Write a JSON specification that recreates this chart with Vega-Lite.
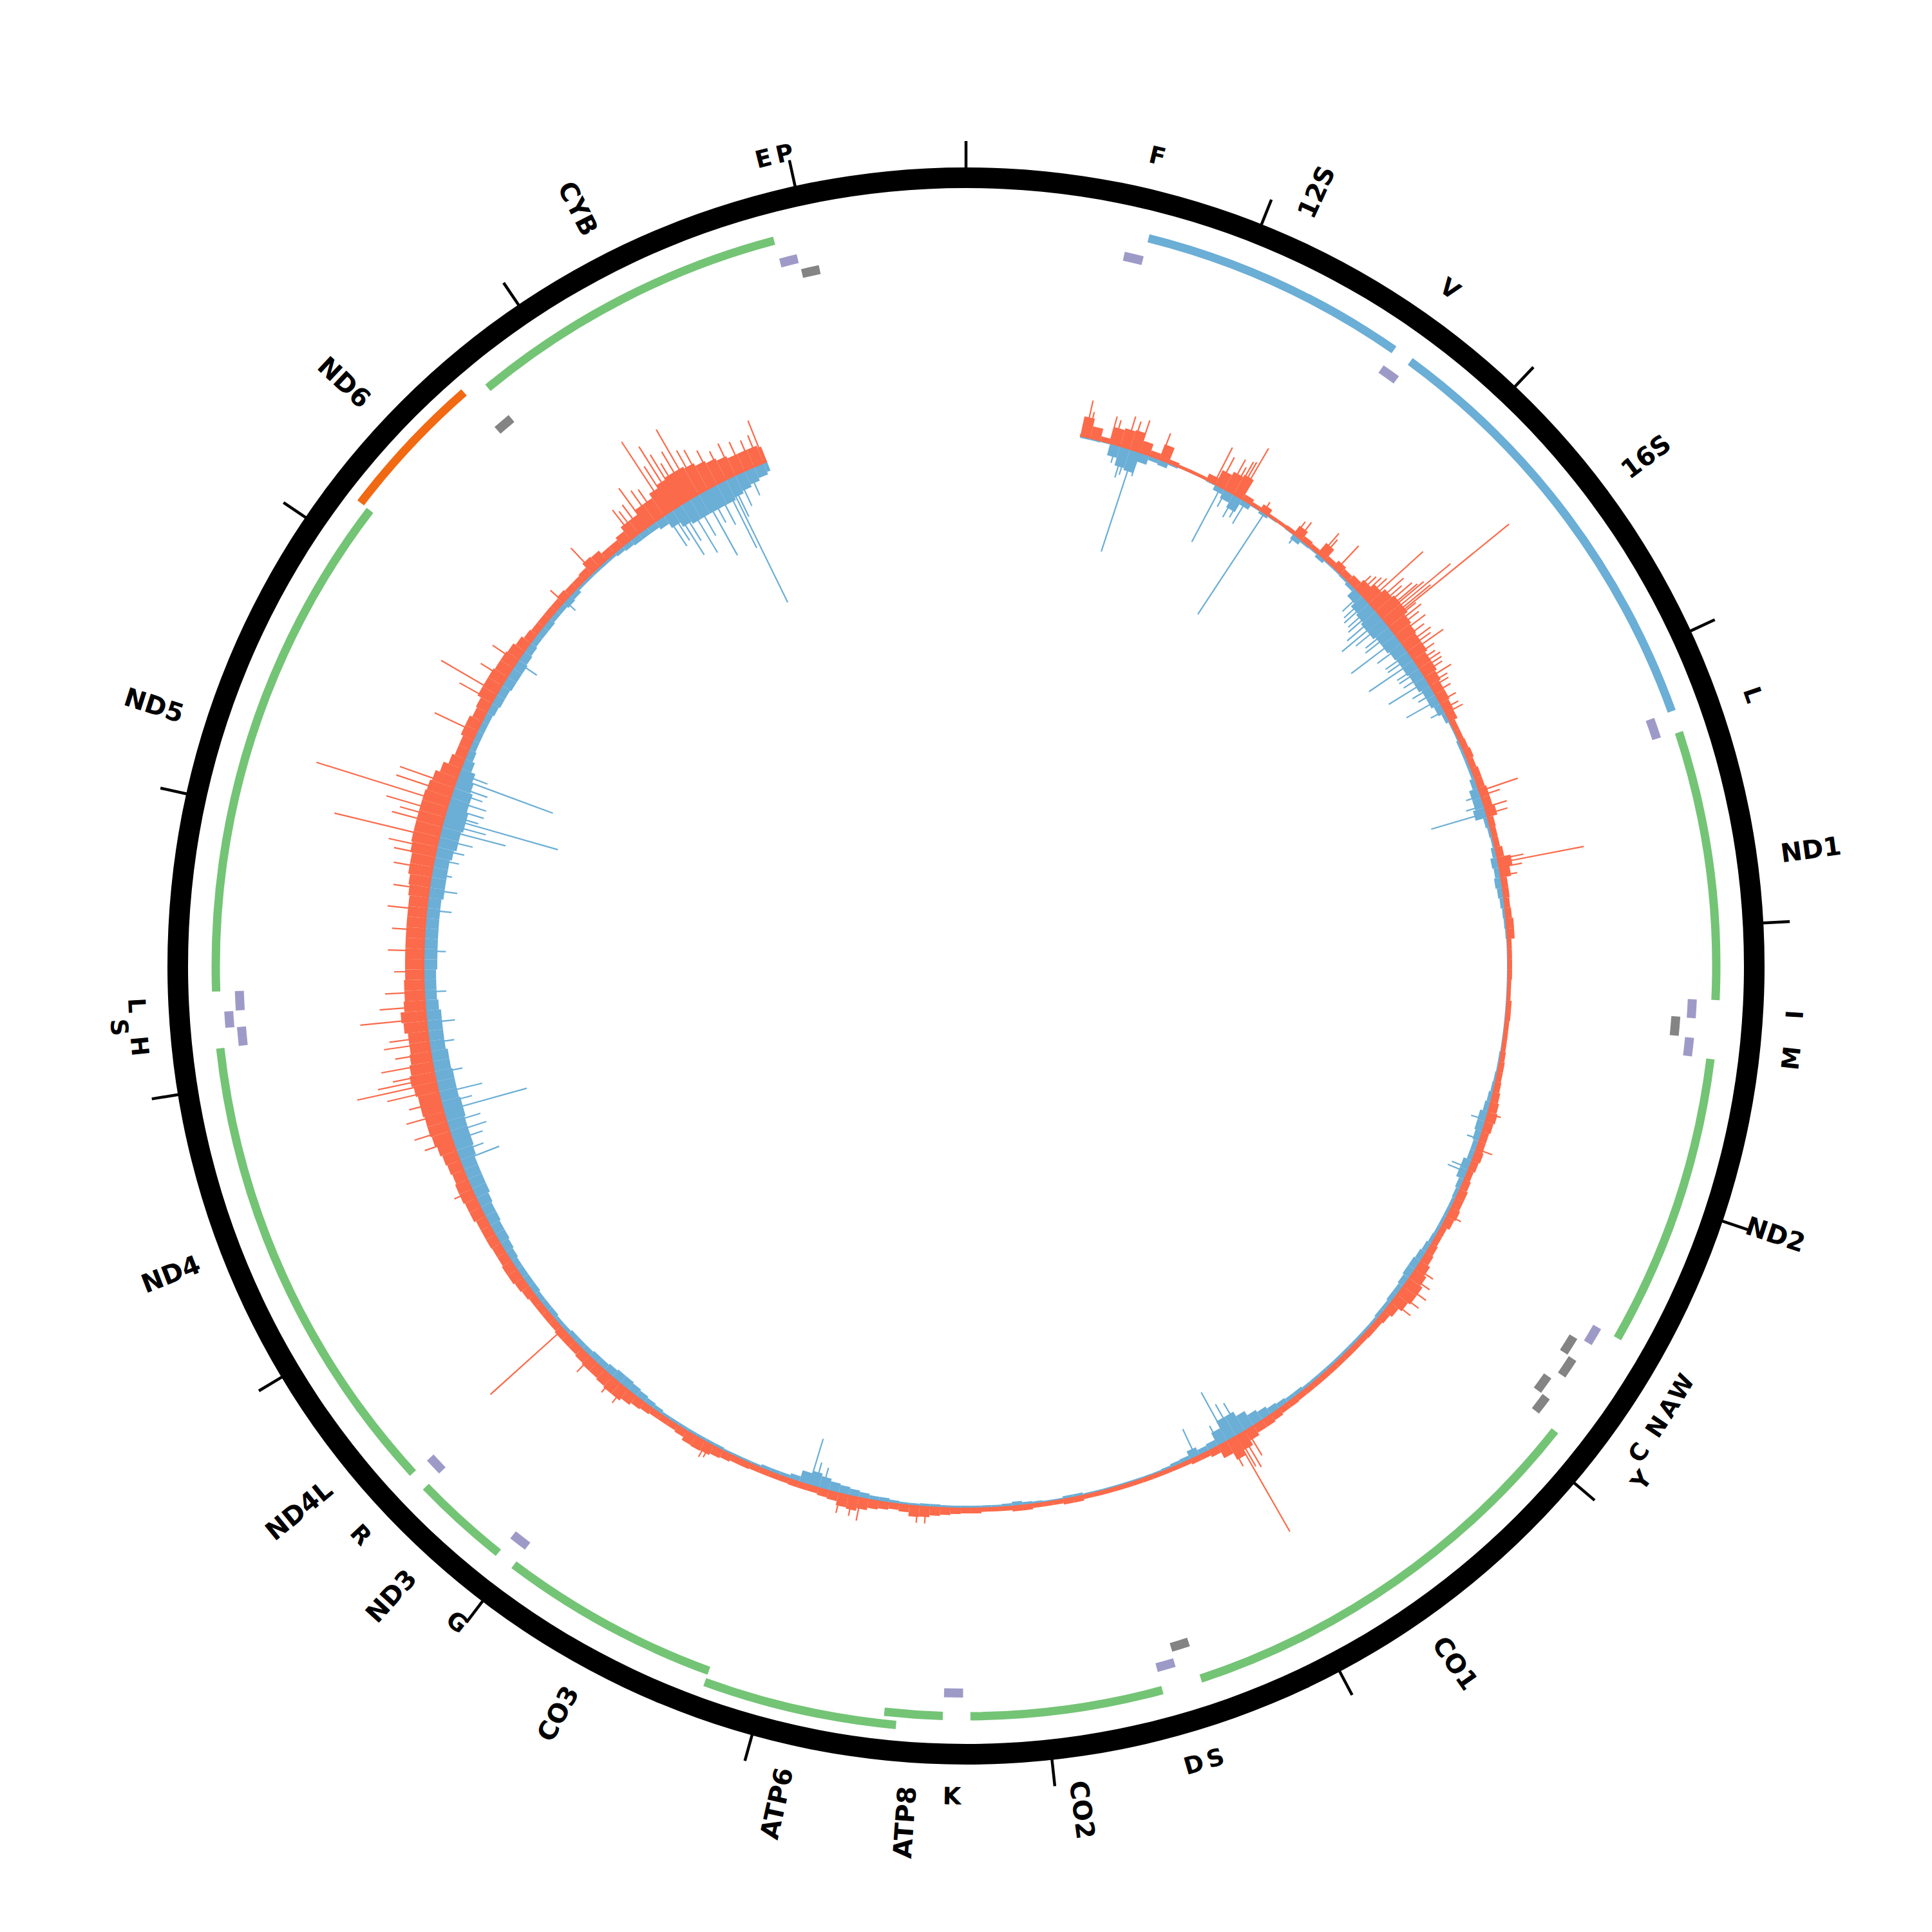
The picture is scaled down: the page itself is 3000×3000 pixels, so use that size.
{
"$schema":"https://vega.github.io/schema/vega-lite/v6.json",
"width":3000,"height":3000,"autosize":{"type":"none"},"padding":0,"background":"white",
"config":{"view":{"stroke":null}},
"datasets":{
"genes":[
{"s":577,"e":647,"g":"F","t":"H","k":0,"lk":0},
{"s":648,"e":1601,"g":"12S","t":"R","k":0,"lk":0},
{"s":1602,"e":1670,"g":"V","t":"H","k":0,"lk":0},
{"s":1671,"e":3229,"g":"16S","t":"R","k":0,"lk":0},
{"s":3230,"e":3304,"g":"L","t":"H","k":0,"lk":0},
{"s":3307,"e":4262,"g":"ND1","t":"P","k":0,"lk":0},
{"s":4263,"e":4331,"g":"I","t":"H","k":0,"lk":0},
{"s":4329,"e":4400,"g":"","t":"L","k":0,"lk":0},
{"s":4402,"e":4469,"g":"M","t":"H","k":0,"lk":0},
{"s":4470,"e":5511,"g":"ND2","t":"P","k":0,"lk":0},
{"s":5512,"e":5579,"g":"W","t":"H","k":0,"lk":0},
{"s":5587,"e":5655,"g":"A","t":"L","k":0,"lk":0},
{"s":5657,"e":5729,"g":"N","t":"L","k":1,"lk":0},
{"s":5761,"e":5826,"g":"C","t":"L","k":0,"lk":0},
{"s":5826,"e":5891,"g":"Y","t":"L","k":1,"lk":1},
{"s":5904,"e":7445,"g":"CO1","t":"P","k":0,"lk":0},
{"s":7446,"e":7514,"g":"S","t":"L","k":0,"lk":0},
{"s":7518,"e":7585,"g":"D","t":"H","k":0,"lk":0},
{"s":7586,"e":8269,"g":"CO2","t":"P","k":0,"lk":0},
{"s":8295,"e":8364,"g":"K","t":"H","k":0,"lk":0},
{"s":8366,"e":8572,"g":"ATP8","t":"P","k":0,"lk":0},
{"s":8527,"e":9207,"g":"ATP6","t":"P","k":1,"lk":0},
{"s":9207,"e":9990,"g":"CO3","t":"P","k":0,"lk":0},
{"s":9991,"e":10058,"g":"G","t":"H","k":0,"lk":0},
{"s":10059,"e":10404,"g":"ND3","t":"P","k":0,"lk":0},
{"s":10405,"e":10469,"g":"R","t":"H","k":0,"lk":0},
{"s":10470,"e":10766,"g":"ND4L","t":"P","k":0,"lk":0},
{"s":10760,"e":12137,"g":"ND4","t":"P","k":0,"lk":0},
{"s":12138,"e":12206,"g":"H","t":"H","k":0,"lk":0},
{"s":12207,"e":12265,"g":"S","t":"H","k":1,"lk":1},
{"s":12266,"e":12336,"g":"L","t":"H","k":0,"lk":0},
{"s":12337,"e":14148,"g":"ND5","t":"P","k":0,"lk":0},
{"s":14149,"e":14673,"g":"ND6","t":"N","k":1,"lk":0},
{"s":14674,"e":14742,"g":"","t":"L","k":0,"lk":0},
{"s":14747,"e":15887,"g":"CYB","t":"P","k":0,"lk":0},
{"s":15888,"e":15953,"g":"E","t":"H","k":0,"lk":0},
{"s":15956,"e":16023,"g":"P","t":"L","k":0,"lk":0}
],
"cov":[
{"p":560,"r":30,"b":4},{"p":610,"r":18,"b":4},{"p":660,"r":6,"b":3},{"p":710,"r":25,"b":20},{"p":760,"r":28,"b":32},{"p":810,"r":30,"b":35},{"p":860,"r":18,"b":16},{"p":910,"r":8,"b":8},{"p":960,"r":24,"b":10},{"p":1010,"r":5,"b":4},
{"p":1060,"r":3,"b":2},{"p":1110,"r":3,"b":2},{"p":1160,"r":3,"b":2},{"p":1210,"r":10,"b":3},{"p":1260,"r":24,"b":10},{"p":1310,"r":30,"b":16},{"p":1360,"r":34,"b":24},{"p":1410,"r":8,"b":10},{"p":1460,"r":4,"b":3},{"p":1510,"r":10,"b":6},
{"p":1560,"r":3,"b":3},{"p":1610,"r":3,"b":2},{"p":1660,"r":4,"b":3},{"p":1710,"r":15,"b":10},{"p":1760,"r":7,"b":5},{"p":1810,"r":5,"b":4},{"p":1860,"r":20,"b":8},{"p":1910,"r":7,"b":4},{"p":1960,"r":12,"b":4},{"p":2010,"r":9,"b":5},
{"p":2060,"r":12,"b":8},{"p":2110,"r":18,"b":18},{"p":2160,"r":25,"b":25},{"p":2210,"r":32,"b":28},{"p":2260,"r":36,"b":32},{"p":2310,"r":36,"b":32},{"p":2360,"r":30,"b":28},{"p":2410,"r":27,"b":28},{"p":2460,"r":25,"b":25},{"p":2510,"r":25,"b":23},
{"p":2560,"r":21,"b":23},{"p":2610,"r":21,"b":21},{"p":2660,"r":18,"b":21},{"p":2710,"r":15,"b":17},{"p":2760,"r":15,"b":17},{"p":2810,"r":13,"b":13},{"p":2860,"r":12,"b":8},{"p":2910,"r":7,"b":4},{"p":2960,"r":7,"b":4},{"p":3010,"r":8,"b":6},
{"p":3060,"r":10,"b":6},{"p":3110,"r":8,"b":6},{"p":3160,"r":10,"b":6},{"p":3210,"r":10,"b":10},{"p":3260,"r":12,"b":16},{"p":3310,"r":12,"b":16},{"p":3360,"r":15,"b":20},{"p":3410,"r":8,"b":8},{"p":3460,"r":7,"b":6},{"p":3510,"r":7,"b":5},
{"p":3560,"r":10,"b":8},{"p":3610,"r":20,"b":12},{"p":3660,"r":15,"b":10},{"p":3710,"r":8,"b":12},{"p":3760,"r":8,"b":10},{"p":3810,"r":7,"b":8},{"p":3860,"r":8,"b":6},{"p":3910,"r":10,"b":5},{"p":3960,"r":10,"b":4},{"p":4010,"r":5,"b":3},
{"p":4060,"r":5,"b":3},{"p":4110,"r":5,"b":3},{"p":4160,"r":5,"b":3},{"p":4210,"r":4,"b":3},{"p":4260,"r":4,"b":3},{"p":4310,"r":6,"b":3},{"p":4360,"r":6,"b":3},{"p":4410,"r":5,"b":3},{"p":4460,"r":5,"b":3},{"p":4510,"r":5,"b":3},
{"p":4560,"r":6,"b":4},{"p":4610,"r":7,"b":4},{"p":4660,"r":7,"b":5},{"p":4710,"r":8,"b":6},{"p":4760,"r":10,"b":8},{"p":4810,"r":12,"b":10},{"p":4860,"r":14,"b":14},{"p":4910,"r":12,"b":14},{"p":4960,"r":10,"b":12},{"p":5010,"r":10,"b":10},
{"p":5060,"r":12,"b":10},{"p":5110,"r":10,"b":15},{"p":5160,"r":8,"b":15},{"p":5210,"r":10,"b":10},{"p":5260,"r":12,"b":8},{"p":5310,"r":12,"b":7},{"p":5360,"r":14,"b":7},{"p":5410,"r":12,"b":7},{"p":5460,"r":8,"b":7},{"p":5510,"r":8,"b":8},
{"p":5560,"r":10,"b":10},{"p":5610,"r":12,"b":12},{"p":5660,"r":16,"b":14},{"p":5710,"r":20,"b":14},{"p":5760,"r":24,"b":12},{"p":5810,"r":24,"b":10},{"p":5860,"r":20,"b":10},{"p":5910,"r":14,"b":8},{"p":5960,"r":10,"b":8},{"p":6010,"r":8,"b":6},
{"p":6060,"r":8,"b":6},{"p":6110,"r":7,"b":6},{"p":6160,"r":7,"b":6},{"p":6210,"r":7,"b":6},{"p":6260,"r":7,"b":6},{"p":6310,"r":7,"b":6},{"p":6360,"r":7,"b":6},{"p":6410,"r":7,"b":6},{"p":6460,"r":7,"b":6},{"p":6510,"r":7,"b":8},
{"p":6560,"r":8,"b":8},{"p":6610,"r":8,"b":10},{"p":6660,"r":10,"b":12},{"p":6710,"r":12,"b":16},{"p":6760,"r":12,"b":20},{"p":6810,"r":16,"b":28},{"p":6860,"r":24,"b":36},{"p":6910,"r":32,"b":36},{"p":6960,"r":20,"b":24},{"p":7010,"r":10,"b":12},
{"p":7060,"r":7,"b":10},{"p":7110,"r":7,"b":15},{"p":7160,"r":5,"b":8},{"p":7210,"r":5,"b":7},{"p":7260,"r":5,"b":5},{"p":7310,"r":5,"b":4},{"p":7360,"r":5,"b":4},{"p":7410,"r":5,"b":4},{"p":7460,"r":5,"b":4},{"p":7510,"r":5,"b":4},
{"p":7560,"r":5,"b":4},{"p":7610,"r":5,"b":4},{"p":7660,"r":5,"b":4},{"p":7710,"r":7,"b":6},{"p":7760,"r":7,"b":6},{"p":7810,"r":5,"b":4},{"p":7860,"r":5,"b":4},{"p":7910,"r":5,"b":5},{"p":7960,"r":7,"b":6},{"p":8010,"r":7,"b":8},
{"p":8060,"r":5,"b":6},{"p":8110,"r":5,"b":5},{"p":8160,"r":5,"b":5},{"p":8210,"r":7,"b":5},{"p":8260,"r":7,"b":5},{"p":8310,"r":8,"b":5},{"p":8360,"r":10,"b":5},{"p":8410,"r":12,"b":6},{"p":8460,"r":15,"b":6},{"p":8510,"r":16,"b":5},
{"p":8560,"r":10,"b":5},{"p":8610,"r":8,"b":6},{"p":8660,"r":10,"b":8},{"p":8710,"r":12,"b":8},{"p":8760,"r":16,"b":10},{"p":8810,"r":20,"b":12},{"p":8860,"r":18,"b":14},{"p":8910,"r":12,"b":16},{"p":8960,"r":10,"b":20},{"p":9010,"r":8,"b":24},
{"p":9060,"r":8,"b":20},{"p":9110,"r":8,"b":10},{"p":9160,"r":7,"b":7},{"p":9210,"r":7,"b":7},{"p":9260,"r":7,"b":7},{"p":9310,"r":7,"b":5},{"p":9360,"r":8,"b":5},{"p":9410,"r":8,"b":5},{"p":9460,"r":10,"b":5},{"p":9510,"r":12,"b":6},
{"p":9560,"r":15,"b":6},{"p":9610,"r":16,"b":6},{"p":9660,"r":15,"b":6},{"p":9710,"r":10,"b":6},{"p":9760,"r":8,"b":6},{"p":9810,"r":8,"b":6},{"p":9860,"r":8,"b":8},{"p":9910,"r":10,"b":10},{"p":9960,"r":12,"b":12},{"p":10010,"r":16,"b":14},
{"p":10060,"r":20,"b":16},{"p":10110,"r":20,"b":16},{"p":10160,"r":18,"b":14},{"p":10210,"r":16,"b":12},{"p":10260,"r":16,"b":12},{"p":10310,"r":14,"b":10},{"p":10360,"r":12,"b":10},{"p":10410,"r":12,"b":10},{"p":10460,"r":12,"b":8},{"p":10510,"r":10,"b":8},
{"p":10560,"r":10,"b":10},{"p":10610,"r":10,"b":10},{"p":10660,"r":10,"b":10},{"p":10710,"r":12,"b":12},{"p":10760,"r":14,"b":12},{"p":10810,"r":16,"b":12},{"p":10860,"r":16,"b":12},{"p":10910,"r":14,"b":14},{"p":10960,"r":14,"b":16},{"p":11010,"r":15,"b":18},
{"p":11060,"r":15,"b":18},{"p":11110,"r":15,"b":20},{"p":11160,"r":18,"b":20},{"p":11210,"r":18,"b":22},{"p":11260,"r":20,"b":25},{"p":11310,"r":20,"b":25},{"p":11360,"r":18,"b":25},{"p":11410,"r":20,"b":25},{"p":11460,"r":22,"b":28},{"p":11510,"r":25,"b":30},
{"p":11560,"r":28,"b":30},{"p":11610,"r":30,"b":30},{"p":11660,"r":30,"b":32},{"p":11710,"r":32,"b":32},{"p":11760,"r":32,"b":30},{"p":11810,"r":35,"b":30},{"p":11860,"r":38,"b":30},{"p":11910,"r":35,"b":28},{"p":11960,"r":32,"b":28},{"p":12010,"r":30,"b":25},
{"p":12060,"r":30,"b":25},{"p":12110,"r":35,"b":25},{"p":12160,"r":38,"b":25},{"p":12210,"r":32,"b":22},{"p":12260,"r":30,"b":20},{"p":12310,"r":30,"b":20},{"p":12360,"r":28,"b":20},{"p":12410,"r":28,"b":22},{"p":12460,"r":28,"b":22},{"p":12510,"r":28,"b":22},
{"p":12560,"r":28,"b":22},{"p":12610,"r":28,"b":22},{"p":12660,"r":28,"b":22},{"p":12710,"r":28,"b":22},{"p":12760,"r":30,"b":25},{"p":12810,"r":32,"b":25},{"p":12860,"r":35,"b":25},{"p":12910,"r":35,"b":25},{"p":12960,"r":38,"b":28},{"p":13010,"r":40,"b":32},
{"p":13060,"r":40,"b":32},{"p":13110,"r":40,"b":35},{"p":13160,"r":40,"b":35},{"p":13210,"r":40,"b":32},{"p":13260,"r":38,"b":32},{"p":13310,"r":35,"b":28},{"p":13360,"r":28,"b":25},{"p":13410,"r":20,"b":18},{"p":13460,"r":16,"b":14},{"p":13510,"r":16,"b":12},
{"p":13560,"r":20,"b":12},{"p":13610,"r":20,"b":12},{"p":13660,"r":16,"b":12},{"p":13710,"r":18,"b":14},{"p":13760,"r":24,"b":16},{"p":13810,"r":24,"b":16},{"p":13860,"r":24,"b":18},{"p":13910,"r":22,"b":18},{"p":13960,"r":22,"b":18},{"p":14010,"r":20,"b":16},
{"p":14060,"r":16,"b":14},{"p":14110,"r":12,"b":12},{"p":14160,"r":10,"b":12},{"p":14210,"r":10,"b":12},{"p":14260,"r":10,"b":10},{"p":14310,"r":10,"b":10},{"p":14360,"r":12,"b":12},{"p":14410,"r":10,"b":10},{"p":14460,"r":10,"b":6},{"p":14510,"r":12,"b":6},
{"p":14560,"r":20,"b":6},{"p":14610,"r":18,"b":6},{"p":14660,"r":12,"b":6},{"p":14710,"r":12,"b":8},{"p":14760,"r":16,"b":10},{"p":14810,"r":24,"b":12},{"p":14860,"r":24,"b":12},{"p":14910,"r":32,"b":12},{"p":14960,"r":32,"b":16},{"p":15010,"r":40,"b":24},
{"p":15060,"r":45,"b":32},{"p":15110,"r":48,"b":36},{"p":15160,"r":48,"b":36},{"p":15210,"r":45,"b":36},{"p":15260,"r":40,"b":36},{"p":15310,"r":36,"b":36},{"p":15360,"r":32,"b":32},{"p":15410,"r":28,"b":28},{"p":15460,"r":28,"b":24},{"p":15510,"r":28,"b":20},
{"p":15560,"r":24,"b":16},{"p":15578,"r":0,"b":0}
],
"rs":[
{"p":583,"v":57},{"p":600,"v":40},{"p":708,"v":42},{"p":730,"v":38},{"p":790,"v":50},{"p":820,"v":45},{"p":857,"v":51},{"p":967,"v":43},{"p":1252,"v":62},{"p":1280,"v":50},{"p":1330,"v":55},{"p":1350,"v":45},{"p":1367,"v":58},{"p":1380,"v":60},{"p":1395,"v":88},{"p":1530,"v":18},{"p":1720,"v":25},{"p":1745,"v":30},{"p":1876,"v":44},{"p":1890,"v":35},{"p":1982,"v":50},
{"p":2120,"v":30},{"p":2140,"v":35},{"p":2160,"v":40},{"p":2180,"v":45},{"p":2200,"v":115},{"p":2230,"v":65},{"p":2250,"v":55},{"p":2270,"v":70},{"p":2290,"v":75},{"p":2300,"v":85},{"p":2315,"v":135},{"p":2330,"v":90},{"p":2341,"v":244},{"p":2350,"v":55},{"p":2370,"v":60},{"p":2390,"v":50},{"p":2420,"v":55},{"p":2450,"v":45},{"p":2480,"v":50},{"p":2500,"v":45},{"p":2522,"v":64},{"p":2550,"v":40},{"p":2580,"v":35},{"p":2600,"v":40},{"p":2620,"v":38},{"p":2640,"v":35},{"p":2675,"v":44},{"p":2700,"v":32},{"p":2720,"v":30},{"p":2750,"v":28},{"p":2800,"v":28},{"p":2840,"v":25},{"p":2863,"v":29},
{"p":3277,"v":62},{"p":3300,"v":30},{"p":3360,"v":35},{"p":3393,"v":33},{"p":3620,"v":40},{"p":3638,"v":134},{"p":3660,"v":35},{"p":3700,"v":25},{"p":4870,"v":20},{"p":5050,"v":25},{"p":5400,"v":22},{"p":5700,"v":30},{"p":5750,"v":35},{"p":5800,"v":40},{"p":5850,"v":38},{"p":5900,"v":35},{"p":6850,"v":45},{"p":6880,"v":60},{"p":6900,"v":55},{"p":6913,"v":169},{"p":6950,"v":45},
{"p":8480,"v":25},{"p":8520,"v":25},{"p":8800,"v":35},{"p":8840,"v":30},{"p":8900,"v":30},{"p":9580,"v":22},{"p":9600,"v":25},{"p":10080,"v":30},{"p":10150,"v":28},{"p":10300,"v":30},{"p":10493,"v":151},{"p":11300,"v":30},
{"p":11560,"v":45},{"p":11620,"v":55},{"p":11700,"v":60},{"p":11760,"v":50},{"p":11820,"v":80},{"p":11855,"v":125},{"p":11880,"v":90},{"p":11900,"v":65},{"p":11950,"v":80},{"p":12000,"v":55},{"p":12050,"v":70},{"p":12080,"v":60},{"p":12170,"v":102},{"p":12230,"v":70},{"p":12300,"v":60},{"p":12400,"v":45},{"p":12500,"v":55},{"p":12600,"v":50},{"p":12700,"v":60},{"p":12800,"v":55},{"p":12900,"v":60},{"p":12965,"v":64},
{"p":13000,"v":75},{"p":13053,"v":166},{"p":13120,"v":80},{"p":13150,"v":70},{"p":13180,"v":95},{"p":13228,"v":214},{"p":13280,"v":90},{"p":13320,"v":89},{"p":13600,"v":71},{"p":13771,"v":58},{"p":13817,"v":100},{"p":13897,"v":45},{"p":13997,"v":45},{"p":14365,"v":27},{"p":14572,"v":50},{"p":14830,"v":53},{"p":14850,"v":45},{"p":14880,"v":50},{"p":14912,"v":74},{"p":14950,"v":60},{"p":14980,"v":55},
{"p":15036,"v":131},{"p":15060,"v":80},{"p":15087,"v":110},{"p":15110,"v":90},{"p":15130,"v":70},{"p":15160,"v":85},{"p":15188,"v":119},{"p":15220,"v":75},{"p":15250,"v":70},{"p":15300,"v":60},{"p":15350,"v":50},{"p":15400,"v":55},{"p":15450,"v":50},{"p":15500,"v":45},{"p":15540,"v":48},{"p":15566,"v":69}
],
"bs":[
{"p":740,"v":30},{"p":780,"v":50},{"p":797,"v":44},{"p":832,"v":166},{"p":860,"v":40},{"p":1290,"v":97},{"p":1320,"v":30},{"p":1370,"v":40},{"p":1400,"v":35},{"p":1430,"v":41},{"p":1537,"v":189},{"p":1721,"v":17},
{"p":2150,"v":40},{"p":2180,"v":45},{"p":2200,"v":50},{"p":2230,"v":50},{"p":2250,"v":55},{"p":2280,"v":65},{"p":2306,"v":82},{"p":2330,"v":60},{"p":2370,"v":50},{"p":2390,"v":55},{"p":2430,"v":92},{"p":2470,"v":50},{"p":2520,"v":45},{"p":2540,"v":45},{"p":2566,"v":86},{"p":2600,"v":40},{"p":2620,"v":40},{"p":2650,"v":38},{"p":2681,"v":71},{"p":2720,"v":35},{"p":2750,"v":30},{"p":2789,"v":58},{"p":2850,"v":25},
{"p":3300,"v":25},{"p":3350,"v":30},{"p":3388,"v":90},{"p":4900,"v":25},{"p":5000,"v":22},{"p":5150,"v":30},{"p":5172,"v":34},{"p":6880,"v":55},{"p":6920,"v":60},{"p":6955,"v":87},{"p":7000,"v":35},{"p":7130,"v":49},{"p":8990,"v":35},{"p":9030,"v":40},{"p":9058,"v":76},
{"p":11455,"v":66},{"p":11500,"v":45},{"p":11560,"v":50},{"p":11600,"v":60},{"p":11650,"v":55},{"p":11711,"v":135},{"p":11750,"v":50},{"p":11800,"v":70},{"p":11900,"v":45},{"p":12050,"v":40},{"p":12150,"v":45},{"p":12300,"v":35},{"p":12500,"v":35},{"p":12700,"v":40},{"p":12800,"v":45},{"p":12878,"v":33},{"p":12950,"v":40},{"p":13000,"v":45},
{"p":13050,"v":55},{"p":13100,"v":104},{"p":13130,"v":70},{"p":13159,"v":184},{"p":13175,"v":54},{"p":13210,"v":60},{"p":13250,"v":60},{"p":13290,"v":50},{"p":13320,"v":55},{"p":13361,"v":159},{"p":13385,"v":48},{"p":13997,"v":38},{"p":14374,"v":23},
{"p":15022,"v":60},{"p":15050,"v":55},{"p":15074,"v":86},{"p":15100,"v":65},{"p":15142,"v":94},{"p":15180,"v":70},{"p":15230,"v":113},{"p":15260,"v":60},{"p":15300,"v":70},{"p":15345,"v":117},{"p":15367,"v":214},{"p":15382,"v":68},{"p":15420,"v":55},{"p":15480,"v":45}
]
},
"layer":[
{"data":{"values":[{"s":0,"e":16569}]},
 "mark":{"type":"arc","innerRadius":1208,"outerRadius":1240,"color":"#000000"},
 "encoding":{"theta":{"field":"s","type":"quantitative","stack":null,"scale":{"type":"linear","domain":[0,16569],"range":[0,6.283185307179586],"nice":false,"zero":false}},"theta2":{"field":"e"}}},
{"data":{"values":[{"p":0},{"p":1000},{"p":2000},{"p":3000},{"p":4000},{"p":5000},{"p":6000},{"p":7000},{"p":8000},{"p":9000},{"p":10000},{"p":11000},{"p":12000},{"p":13000},{"p":14000},{"p":15000},{"p":16000}]},
 "mark":{"type":"arc","innerRadius":1238,"outerRadius":1281,"filled":false,"stroke":"#000000","strokeWidth":4.5},
 "encoding":{"theta":{"field":"p","type":"quantitative","stack":null},"theta2":{"field":"p"}}},
{"data":{"name":"genes"},"transform":[{"filter":"datum.k==0 && (datum.t=='P'||datum.t=='N'||datum.t=='R')"}],
 "mark":{"type":"arc","innerRadius":1158.5,"outerRadius":1171.5},
 "encoding":{"theta":{"field":"s","type":"quantitative","stack":null},"theta2":{"field":"e"},"color":{"field":"t","type":"nominal","legend":null,"scale":{"domain":["P","N","R","H","L"],"range":["#74c476","#f16913","#6baed6","#9e9ac8","#848484"]}}}},
{"data":{"name":"genes"},"transform":[{"filter":"datum.k==1 && (datum.t=='P'||datum.t=='N'||datum.t=='R')"}],
 "mark":{"type":"arc","innerRadius":1177,"outerRadius":1190},
 "encoding":{"theta":{"field":"s","type":"quantitative","stack":null},"theta2":{"field":"e"},"color":{"field":"t","type":"nominal","legend":null}}},
{"data":{"name":"genes"},"transform":[{"filter":"datum.k==0 && datum.t=='H'"}],
 "mark":{"type":"arc","innerRadius":1122,"outerRadius":1136},
 "encoding":{"theta":{"field":"s","type":"quantitative","stack":null},"theta2":{"field":"e"},"color":{"field":"t","type":"nominal","legend":null}}},
{"data":{"name":"genes"},"transform":[{"filter":"datum.k==1 && datum.t=='H'"}],
 "mark":{"type":"arc","innerRadius":1140,"outerRadius":1154},
 "encoding":{"theta":{"field":"s","type":"quantitative","stack":null},"theta2":{"field":"e"},"color":{"field":"t","type":"nominal","legend":null}}},
{"data":{"name":"genes"},"transform":[{"filter":"datum.k==0 && datum.t=='L'"}],
 "mark":{"type":"arc","innerRadius":1098,"outerRadius":1112},
 "encoding":{"theta":{"field":"s","type":"quantitative","stack":null},"theta2":{"field":"e"},"color":{"field":"t","type":"nominal","legend":null}}},
{"data":{"name":"genes"},"transform":[{"filter":"datum.k==1 && datum.t=='L'"}],
 "mark":{"type":"arc","innerRadius":1115,"outerRadius":1129},
 "encoding":{"theta":{"field":"s","type":"quantitative","stack":null},"theta2":{"field":"e"},"color":{"field":"t","type":"nominal","legend":null}}},
{"data":{"name":"genes"},"transform":[{"filter":"datum.t=='P'||datum.t=='N'||datum.t=='R'"},{"calculate":"(datum.s+datum.e)/2","as":"m"},{"calculate":"datum.m/16569*360","as":"d"},{"filter":"datum.d<180"},{"calculate":"datum.d-90","as":"a"}],
 "mark":{"type":"text","radius":1277,"align":"left","baseline":"middle","font":"DejaVu Sans","fontWeight":"bold","fontSize":40,"color":"#000000"},
 "encoding":{"theta":{"field":"m","type":"quantitative","stack":null},"text":{"field":"g"},"angle":{"field":"a","type":"quantitative","scale":null}}},
{"data":{"name":"genes"},"transform":[{"filter":"datum.t=='P'||datum.t=='N'||datum.t=='R'"},{"calculate":"(datum.s+datum.e)/2","as":"m"},{"calculate":"datum.m/16569*360","as":"d"},{"filter":"datum.d>=180"},{"calculate":"datum.d-270","as":"a"}],
 "mark":{"type":"text","radius":1277,"align":"right","baseline":"middle","font":"DejaVu Sans","fontWeight":"bold","fontSize":40,"color":"#000000"},
 "encoding":{"theta":{"field":"m","type":"quantitative","stack":null},"text":{"field":"g"},"angle":{"field":"a","type":"quantitative","scale":null}}},
{"data":{"name":"genes"},"transform":[{"filter":"(datum.t=='H'||datum.t=='L') && datum.g!='' && datum.lk==0"},{"calculate":"(datum.s+datum.e)/2","as":"m"},{"calculate":"datum.m/16569*360","as":"d"},{"calculate":"datum.d>90 && datum.d<270 ? datum.d-180 : datum.d","as":"a"}],
 "mark":{"type":"text","radius":1291,"align":"center","baseline":"middle","font":"DejaVu Sans","fontWeight":"bold","fontSize":37,"color":"#000000"},
 "encoding":{"theta":{"field":"m","type":"quantitative","stack":null},"text":{"field":"g"},"angle":{"field":"a","type":"quantitative","scale":null}}},
{"data":{"name":"genes"},"transform":[{"filter":"(datum.t=='H'||datum.t=='L') && datum.g!='' && datum.lk==1"},{"calculate":"(datum.s+datum.e)/2","as":"m"},{"calculate":"datum.m/16569*360","as":"d"},{"calculate":"datum.d>90 && datum.d<270 ? datum.d-180 : datum.d","as":"a"}],
 "mark":{"type":"text","radius":1320,"align":"center","baseline":"middle","font":"DejaVu Sans","fontWeight":"bold","fontSize":37,"color":"#000000"},
 "encoding":{"theta":{"field":"m","type":"quantitative","stack":null},"text":{"field":"g"},"angle":{"field":"a","type":"quantitative","scale":null}}},
{"data":{"name":"cov"},"transform":[{"window":[{"op":"lead","field":"p","as":"p2"}],"sort":[{"field":"p","order":"ascending"}]},{"filter":"datum.p2 != null"}],
 "mark":{"type":"arc","innerRadius":843,"color":"#6baed6"},
 "encoding":{"theta":{"field":"p","type":"quantitative","stack":null},"theta2":{"field":"p2"},"radius":{"field":"b","type":"quantitative","scale":{"type":"linear","domain":[0,250],"range":[843,593],"zero":false,"nice":false}}}},
{"data":{"name":"bs"},
 "mark":{"type":"arc","innerRadius":843,"filled":false,"stroke":"#6baed6","strokeWidth":2.2},
 "encoding":{"theta":{"field":"p","type":"quantitative","stack":null},"theta2":{"field":"p"},"radius":{"field":"v","type":"quantitative","scale":{"type":"linear","domain":[0,250],"range":[843,593],"zero":false,"nice":false}}}},
{"data":{"name":"cov"},"transform":[{"window":[{"op":"lead","field":"p","as":"p2"}],"sort":[{"field":"p","order":"ascending"}]},{"filter":"datum.p2 != null"}],
 "mark":{"type":"arc","innerRadius":843,"color":"#fb6a4a"},
 "encoding":{"theta":{"field":"p","type":"quantitative","stack":null},"theta2":{"field":"p2"},"radius":{"field":"r","type":"quantitative","scale":{"type":"linear","domain":[0,250],"range":[843,1093],"zero":false,"nice":false}}}},
{"data":{"name":"rs"},
 "mark":{"type":"arc","innerRadius":843,"filled":false,"stroke":"#fb6a4a","strokeWidth":2.2},
 "encoding":{"theta":{"field":"p","type":"quantitative","stack":null},"theta2":{"field":"p"},"radius":{"field":"v","type":"quantitative","scale":{"type":"linear","domain":[0,250],"range":[843,1093],"zero":false,"nice":false}}}},
{"data":{"values":[{"s":558,"e":15578}]},
 "mark":{"type":"arc","innerRadius":841,"outerRadius":845,"color":"#fb6a4a"},
 "encoding":{"theta":{"field":"s","type":"quantitative","stack":null},"theta2":{"field":"e"}}}
],
"resolve":{"scale":{"radius":"independent"}}
}
